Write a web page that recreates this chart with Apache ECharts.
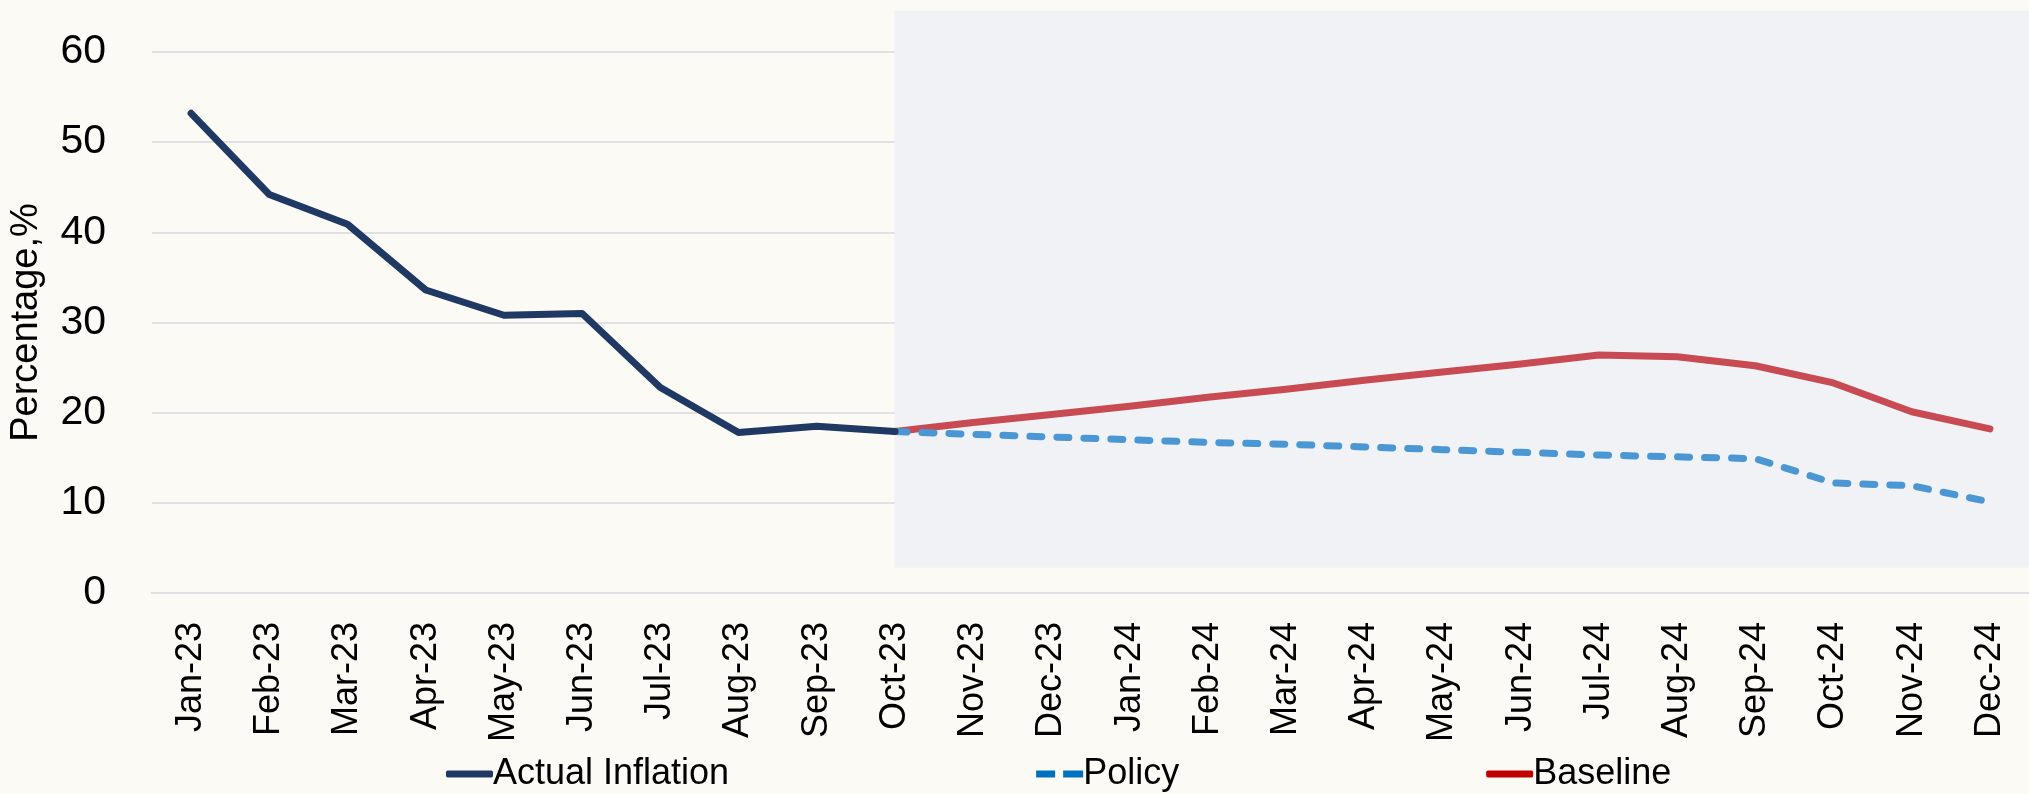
<!DOCTYPE html>
<html>
<head>
<meta charset="utf-8">
<script src="https://cdn.jsdelivr.net/npm/echarts@6/dist/echarts.min.js"></script>
<style>
  html, body { margin: 0; padding: 0; background: #FCFAF5; }
  #chart { width: 2029px; height: 794px; }
</style>
</head>
<body>
<div id="chart"></div>
<script>
// months on the x axis
var categories = ['Jan-23','Feb-23','Mar-23','Apr-23','May-23','Jun-23','Jul-23','Aug-23','Sep-23','Oct-23',
  'Nov-23','Dec-23','Jan-24','Feb-24','Mar-24','Apr-24','May-24','Jun-24','Jul-24','Aug-24','Sep-24','Oct-24','Nov-24','Dec-24'];

var actualInflation = [53.2, 44.2, 40.9, 33.6, 30.8, 31.0, 22.8, 17.8, 18.5, 17.9,
  null, null, null, null, null, null, null, null, null, null, null, null, null, null];

var policy = [null, null, null, null, null, null, null, null, null, 17.9,
  17.6, 17.3, 17.0, 16.7, 16.5, 16.2, 15.9, 15.6, 15.3, 15.1, 14.9, 12.2, 11.9, 10.1];

var baseline = [null, null, null, null, null, null, null, null, null, 17.9,
  18.9, 19.8, 20.7, 21.7, 22.6, 23.6, 24.5, 25.4, 26.4, 26.2, 25.2, 23.3, 20.1, 18.2];

// forecast shading (from Oct-23 to the end), in axis units
var shadeFrom = 'Oct-23';
var shadeLow = 2.8;
var shadeHigh = 64.6;

var yTicks = [0, 60, 10]; // min, max, interval

var font = "'Liberation Sans', Arial, sans-serif";
var fs = 36;

// main plot box and the taller box that holds the shading
var gridTop = 52, gridBottom = 201, shadeTop = 10;
var plotH = 794 - gridTop - gridBottom;
var shadeMax = yTicks[1] * (794 - shadeTop - gridBottom) / plotH;

var chart = echarts.init(document.getElementById('chart'));

var option = {
  backgroundColor: '#FCFAF5',
  animation: false,
  textStyle: { fontFamily: font },
  grid: [
    { left: 151, right: 0, top: gridTop, bottom: gridBottom, containLabel: false },
    { left: 151, right: 0, top: shadeTop, bottom: gridBottom, containLabel: false }
  ],
  legend: {
    left: 441,
    top: 751,
    itemGap: 307,
    itemWidth: 47,
    itemHeight: 7,
    textStyle: { fontSize: fs, color: '#000', fontFamily: font, padding: [0, 0, 0, -5] },
    data: [
      { name: 'Actual Inflation', icon: 'roundRect', itemStyle: { color: '#203864' } },
      { name: 'Policy', icon: 'path://M0,0h19v7h-19z M27,0h20v7h-20z', itemStyle: { color: '#0070C0' } },
      { name: 'Baseline', icon: 'roundRect', itemStyle: { color: '#C00000' } }
    ]
  },
  xAxis: [
    {
      type: 'category',
      gridIndex: 0,
      data: categories,
      boundaryGap: true,
      axisTick: { show: false },
      axisLine: { lineStyle: { color: '#D9D2D2', width: 2 } },
      axisLabel: { rotate: 90, margin: 29, fontSize: fs, color: '#000', fontFamily: font, interval: 0 }
    },
    {
      type: 'category',
      gridIndex: 1,
      data: categories,
      boundaryGap: true,
      show: false
    }
  ],
  yAxis: [
    {
      type: 'value',
      gridIndex: 0,
      min: yTicks[0],
      max: yTicks[1],
      interval: yTicks[2],
      name: 'Percentage,%',
      nameLocation: 'middle',
      nameGap: 106,
      nameTextStyle: { fontSize: 38, color: '#000', fontFamily: font },
      axisLine: { show: false },
      axisTick: { show: false },
      axisLabel: { margin: 46, fontSize: 41, color: '#000', fontFamily: font },
      splitLine: { lineStyle: { color: '#E2E0E2', width: 2 } },
      z: 1
    },
    {
      type: 'value',
      gridIndex: 1,
      min: yTicks[0],
      max: shadeMax,
      show: false
    }
  ],
  series: [
    {
      name: 'shade',
      type: 'line',
      xAxisIndex: 1,
      yAxisIndex: 1,
      data: [],
      z: 0,
      silent: true,
      markArea: {
        silent: true,
        itemStyle: { color: '#F0F2F5' },
        data: [[
          { xAxis: shadeFrom, yAxis: shadeLow },
          { xAxis: Infinity, yAxis: shadeHigh }
        ]]
      }
    },
    {
      name: 'Baseline',
      type: 'line',
      data: baseline,
      symbol: 'none',
      z: 3,
      lineStyle: { color: '#C84B53', width: 7, cap: 'round', join: 'round' },
      itemStyle: { color: '#C00000' }
    },
    {
      name: 'Policy',
      type: 'line',
      data: policy,
      symbol: 'none',
      z: 3,
      lineStyle: { color: '#4A97D3', width: 7, type: [12, 15], cap: 'round', join: 'round' },
      itemStyle: { color: '#0070C0' }
    },
    {
      name: 'Actual Inflation',
      type: 'line',
      data: actualInflation,
      symbol: 'none',
      z: 4,
      lineStyle: { color: '#203864', width: 7, cap: 'round', join: 'round' },
      itemStyle: { color: '#203864' }
    }
  ]
};

chart.setOption(option);
</script>
</body>
</html>
